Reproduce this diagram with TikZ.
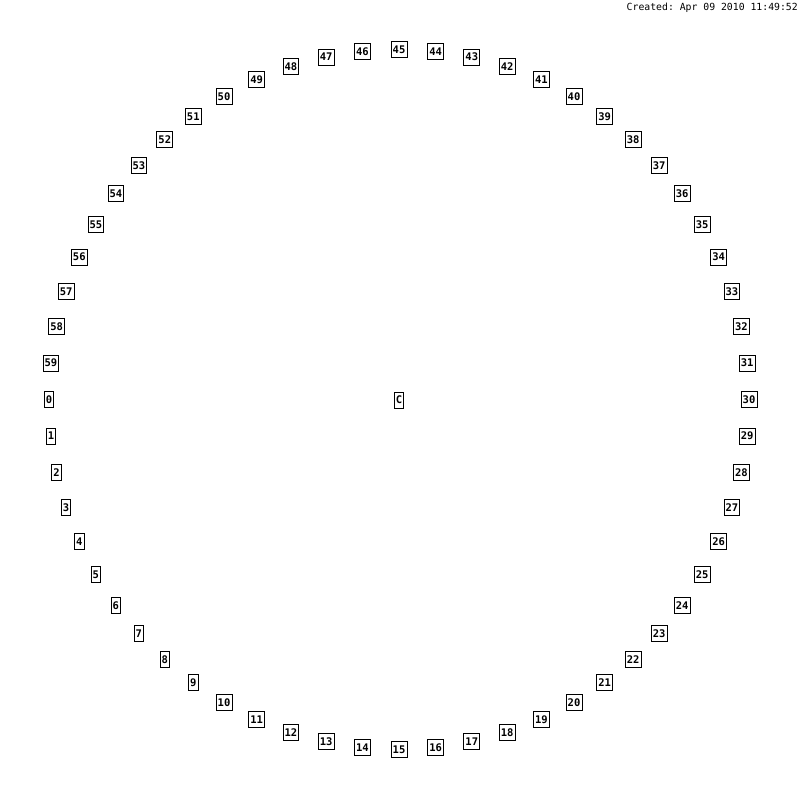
\documentclass[tikz,border=0pt]{standalone}
\usepackage{fontspec}
\setmonofont{DejaVu Sans Mono}
\begin{document}
\begin{tikzpicture}[x=1pt,y=-1pt,
  lbl/.style={draw,line width=0.8pt,fill=white,font=\ttfamily\bfseries\fontsize{10.5}{12}\selectfont,inner xsep=1.6pt,inner ysep=0pt,minimum height=16pt,text height=7.6pt,text depth=0pt}]
\useasboundingbox (0,0) rectangle (800,800);
\fill[white] (0,0) rectangle (800,800);
\node[anchor=north east,inner sep=0pt,font=\ttfamily\fontsize{9.8}{11}\selectfont] (created) at (798,3) {Created: Apr 09 2010 11:49:52};
\node[lbl] (c) at (399,400) {C};
\foreach \k in {0,...,59}{
  \node[lbl] (n\k) at ({399+350*cos(180+6*\k)},{399.5-350*sin(180+6*\k)}) {\k};
}
\end{tikzpicture}
\end{document}
